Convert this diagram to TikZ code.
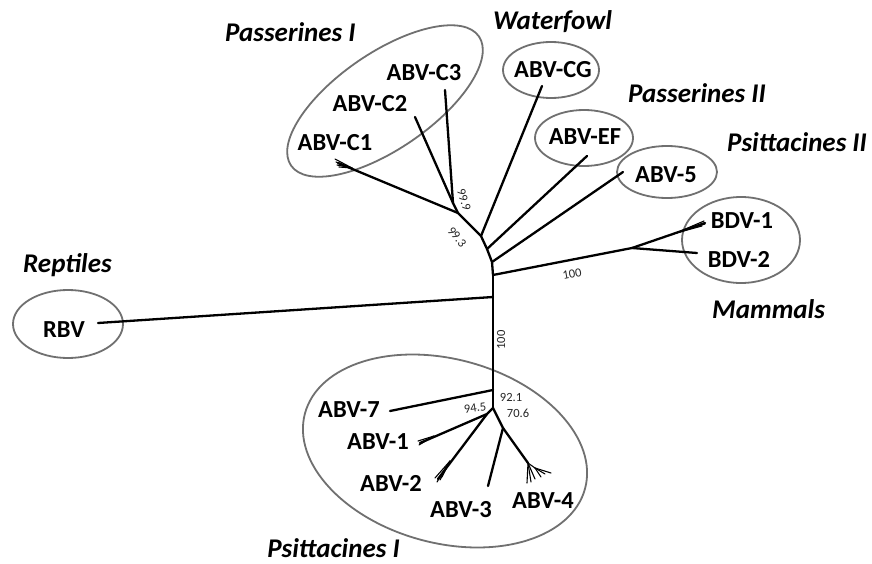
\documentclass[tikz,border=0pt]{standalone}
\usepackage{fontspec}
\setmainfont{Carlito}
\definecolor{clgray}{HTML}{707070}
\begin{document}
\begin{tikzpicture}[x=1pt,y=-1pt,
  br/.style={line width=2.3pt, line cap=round, line join=round},
  fanline/.style={line width=1.1pt, line cap=round},
  grp/.style={draw=clgray, line width=1.8pt},
  lab/.style={font=\fontsize{24.5}{26}\selectfont\bfseries, inner sep=0pt},
  glab/.style={font=\fontsize{27}{29}\selectfont\bfseries\itshape, inner sep=0pt},
  bs/.style={font=\fontsize{12.5}{14}\selectfont, inner sep=0pt, text=black!85}]
\fill[white] (0,0) rectangle (872,564);
\useasboundingbox (0,0) rectangle (872,564);
% internal nodes
\coordinate (r1) at (493,297);
\coordinate (m) at (493,275);
\coordinate (u5) at (492,262);
\coordinate (uef) at (487,249);
\coordinate (ucg) at (481,236);
\coordinate (b) at (458,213);
\coordinate (c) at (453,203);
\coordinate (ms) at (632,248);
\coordinate (l7) at (493,390);
\coordinate (l) at (493,408);
\coordinate (n1) at (487,414);
\coordinate (n2) at (503,428);
% tips
\coordinate (tRBV) at (98,323);
\coordinate (tB1) at (705,223);
\coordinate (tB2) at (697,253);
\coordinate (t5) at (623,172);
\coordinate (tEF) at (587,156);
\coordinate (tCG) at (542,86);
\coordinate (tC1) at (338,163);
\coordinate (tC2) at (415,117);
\coordinate (tC3) at (445,90);
\coordinate (t7) at (390,411);
\coordinate (t1) at (420,443);
\coordinate (t2) at (438,479);
\coordinate (t3) at (488,486);
\coordinate (t4) at (528,463);
% group ellipses
\coordinate (pIc) at (385,101);
\draw[grp, rotate around={34.5:(pIc)}] (pIc) ellipse [x radius=114, y radius=48];
\coordinate (wfc) at (551,70);
\draw[grp] (wfc) ellipse [x radius=48, y radius=28];
\coordinate (efc) at (584,138);
\draw[grp] (efc) ellipse [x radius=49, y radius=28];
\coordinate (p5c) at (667,172);
\draw[grp] (p5c) ellipse [x radius=50, y radius=26];
\coordinate (bdc) at (741,240);
\draw[grp] (bdc) ellipse [x radius=59, y radius=43];
\coordinate (rbc) at (68,324);
\draw[grp] (rbc) ellipse [x radius=55, y radius=34];
\coordinate (psc) at (445,451);
\draw[grp, rotate around={-15:(psc)}] (psc) ellipse [x radius=145, y radius=92];
% branches
\draw[br] (m) -- (r1) -- (l7) -- (l);
\draw[br] (r1) -- (tRBV);
\draw[br] (m) -- (ms) -- (tB1);
\draw[br] (ms) -- (tB2);
\draw[br] (m) -- (u5) -- (uef) -- (ucg) -- (b);
\draw[br] (u5) -- (t5);
\draw[br] (uef) -- (tEF);
\draw[br] (ucg) -- (tCG);
\draw[br] (b) -- (tC1);
\draw[br] (b) -- (c) -- (tC3);
\draw[br] (c) -- (tC2);
\draw[br] (l7) -- (t7);
\draw[br] (l) -- (n1) -- (t1);
\draw[br] (n1) -- (t2);
\draw[br] (l) -- (n2) -- (t3);
\draw[br] (n2) -- (t4);
% tip fans
\coordinate (fC1) at (352,168);
\foreach \p in {(335,159),(336,162),(337,165),(339,167)} \draw[fanline] (fC1) -- \p;
\coordinate (fB1) at (676,233);
\foreach \p in {(704,221),(705,224),(702,226)} \draw[fanline] (fB1) -- \p;
\coordinate (f1) at (434,436);
\foreach \p in {(418,441),(419,445)} \draw[fanline] (f1) -- \p;
\coordinate (f2) at (450,461);
\foreach \p in {(435,478),(437,482),(440,480),(442,477)} \draw[fanline] (f2) -- \p;
\foreach \p in {(527,483),(531,482),(535,479)} \draw[fanline] (t4) -- \p;
\coordinate (f4) at (535,468);
\draw[fanline] (t4) -- (f4);
\foreach \p in {(545,474),(551,473),(541,477)} \draw[fanline] (f4) -- \p;
% tip labels
\node[lab] (nC3) at (424,73) {ABV-C3};
\node[lab] (nC2) at (370,104) {ABV-C2};
\node[lab] (nC1) at (335,143) {ABV-C1};
\node[lab] (nCG) at (553,70) {ABV-CG};
\node[lab] (nEF) at (585,137) {ABV-EF};
\node[lab] (n5) at (666,175) {ABV-5};
\node[lab] (nB1) at (742,221) {BDV-1};
\node[lab] (nB2) at (739,259) {BDV-2};
\node[lab] (nRBV) at (64,330) {RBV};
\node[lab] (n7) at (349,410) {ABV-7};
\node[lab] (nA1) at (378,442) {ABV-1};
\node[lab] (nA2) at (391,483) {ABV-2};
\node[lab] (nA3) at (461,510) {ABV-3};
\node[lab] (nA4) at (543,501) {ABV-4};
% group labels
\node[glab, anchor=base west] (gP1) at (225,42) {Passerines I};
\node[glab, anchor=base west] (gWF) at (493,30) {Waterfowl};
\node[glab, anchor=base west] (gP2) at (628,103) {Passerines II};
\node[glab, anchor=base west] (gS2) at (727,152) {Psittacines II};
\node[glab, anchor=base west] (gR) at (23,272) {Reptiles};
\node[glab, anchor=base west] (gM) at (712,318) {Mammals};
\node[glab, anchor=base east] (gS1) at (400,557) {Psittacines I};
% bootstrap values
\node[bs, rotate=-72] (b999) at (464,200) {99.9};
\node[bs, rotate=-50] (b993) at (457,237) {99.3};
\node[bs, rotate=10] (b100m) at (572,274) {100};
\node[bs, rotate=90] (b100t) at (501,340) {100};
\node[bs] (b921) at (511,397) {92.1};
\node[bs] (b706) at (518,413) {70.6};
\node[bs, rotate=8] (b945) at (475,408) {94.5};
\end{tikzpicture}
\end{document}
